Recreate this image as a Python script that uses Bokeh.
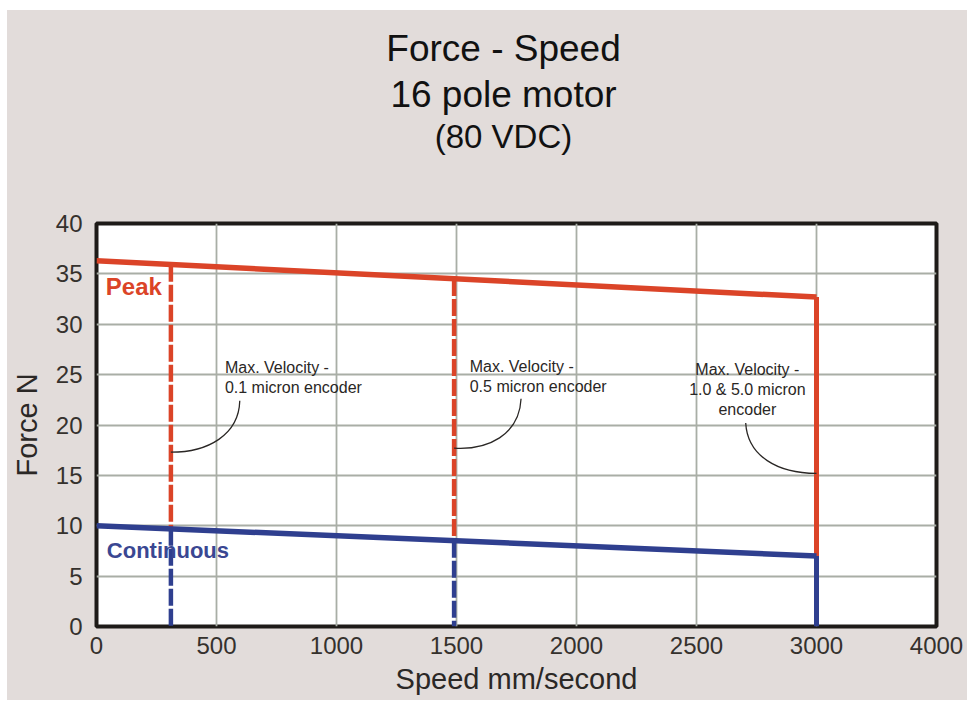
import numpy as np
from bokeh.plotting import figure
from bokeh.models import FixedTicker, Range1d, Spacer
from bokeh.layouts import column, row
from bokeh.embed import file_html
from bokeh.resources import INLINE
from bokeh.core.properties import value

# ---------------- data ----------------
speed_range = [0, 3000]                # mm/second
peak_force = [36.3, 32.7]              # N
continuous_force = [10.0, 7.0]         # N

limit_speeds = [310, 1490, 3000]       # max velocity per encoder
limit_peak = [35.9, 34.5, 32.7]
limit_cont = [9.7, 8.5, 7.0]
limit_dashed = [True, True, False]

x_ticks = [0, 500, 1000, 1500, 2000, 2500, 3000, 3500]
x_tick_labels = ["0", "500", "1000", "1500", "2000", "2500", "3000", "4000"]
y_ticks = [0, 5, 10, 15, 20, 25, 30, 35, 40]

title_lines = ["Force - Speed", "16 pole motor", "(80 VDC)"]
series_names = ["Peak", "Continuous"]
series_label_x = [39, 43]
series_label_y = [33.7, 7.5]

callout_lines = [["Max. Velocity -", "0.1 micron encoder"],
                 ["Max. Velocity -", "0.5 micron encoder"],
                 ["Max. Velocity -", "1.0 & 5.0 micron", "encoder"]]
callout_x = [535, 1555, 2712]
callout_y = [25.7, 25.8, 25.5]
callout_align = ["left", "left", "center"]
# leader curves (start, control points, end on the limit line)
leader_x0 = [597, 1769, 2705]
leader_y0 = [22.4, 22.6, 20.2]
leader_cx0 = [593, 1762, 2713]
leader_cy0 = [19.0, 19.0, 16.9]
leader_cx1 = [464, 1630, 2838]
leader_cy1 = [17.3, 17.5, 15.2]
leader_x1 = [310, 1490, 3000]
leader_y1 = [17.3, 17.7, 15.2]

# ---------------- style ----------------
RED = "#db4428"
BLUE = "#2f3f8f"
BG = "#e2dcda"
FONT = "Liberation Sans"
FW, FH = 840, 403
BL, BR = 87, 32
HEAD_H = 197

# ---------------- heading panel ----------------
head = figure(frame_width=FW, frame_height=HEAD_H,
              min_border_left=BL, min_border_right=BR, min_border_top=0, min_border_bottom=0,
              x_range=Range1d(0, FW), y_range=Range1d(0, HEAD_H),
              x_axis_type=None, y_axis_type=None,
              output_backend="svg", toolbar_location=None)
head.background_fill_color = None
head.border_fill_color = None
head.outline_line_color = None
head.grid.visible = False
title_sizes = ["37px", "37px", "33px"]
title_baselines = [38, 84, 126]          # px from top of panel
for txt, sz, b in zip(title_lines, title_sizes, title_baselines):
    head.text(x=[407], y=[HEAD_H - b], text=[txt], text_font=value(FONT),
              text_font_size=sz, text_color="#111111",
              text_align="center", text_baseline="alphabetic")

# ---------------- chart ----------------
p = figure(frame_width=FW, frame_height=FH,
           min_border_left=BL, min_border_right=BR,
           min_border_top=16, min_border_bottom=74,
           x_range=Range1d(0, 3500), y_range=Range1d(0, 40),
           output_backend="svg", toolbar_location=None)
p.background_fill_color = "white"
p.border_fill_color = BG
p.outline_line_color = "#1e1b18"
p.outline_line_width = 4

p.xaxis.ticker = FixedTicker(ticks=x_ticks)
p.xaxis.major_label_overrides = {t: l for t, l in zip(x_ticks, x_tick_labels)}
p.yaxis.ticker = FixedTicker(ticks=y_ticks)
for ax in (p.xaxis, p.yaxis):
    ax.axis_line_color = None
    ax.major_tick_out = 0
    ax.major_tick_in = 0
    ax.minor_tick_line_color = None
    ax.major_label_text_font = FONT
    ax.major_label_text_font_size = "24px"
    ax.major_label_text_color = "#35312d"
    ax.axis_label_text_font = FONT
    ax.axis_label_text_font_size = "29px"
    ax.axis_label_text_font_style = "normal"
    ax.axis_label_text_color = "#2b2826"
p.xaxis.axis_label = "Speed mm/second"
p.yaxis.axis_label = "Force N"
p.xaxis.major_label_standoff = 10
p.xaxis.axis_label_standoff = 6
p.yaxis.major_label_standoff = 14
p.yaxis.axis_label_standoff = 10

p.grid.grid_line_color = "#a9aea6"
p.grid.grid_line_width = 1.8

# vertical limit lines
dx = [s for s, d in zip(limit_speeds, limit_dashed) if d]
dp = [v for v, d in zip(limit_peak, limit_dashed) if d]
dc = [v for v, d in zip(limit_cont, limit_dashed) if d]
sx = [s for s, d in zip(limit_speeds, limit_dashed) if not d]
sp = [v for v, d in zip(limit_peak, limit_dashed) if not d]
sc = [v for v, d in zip(limit_cont, limit_dashed) if not d]
zd = [0] * len(dx)
zs = [0] * len(sx)
p.segment(x0=dx, y0=dp, x1=dx, y1=dc, line_color=RED, line_width=4.5, line_dash="17 3")
p.segment(x0=dx, y0=dc, x1=dx, y1=zd, line_color=BLUE, line_width=4.5, line_dash="17 3")
p.segment(x0=sx, y0=sp, x1=sx, y1=sc, line_color=RED, line_width=5)
p.segment(x0=sx, y0=sc, x1=sx, y1=zs, line_color=BLUE, line_width=5)

# main curves
p.line(speed_range, peak_force, line_color=RED, line_width=5.5)
p.line(speed_range, continuous_force, line_color=BLUE, line_width=5.5)

# series labels
p.text(x=[series_label_x[0]], y=[series_label_y[0]], text=[series_names[0]],
       text_font=value(FONT), text_font_size="24px", text_font_style="bold",
       text_color=RED, text_baseline="middle", text_align="left")
p.text(x=[series_label_x[1]], y=[series_label_y[1]], text=[series_names[1]],
       text_font=value(FONT), text_font_size="22px", text_font_style="bold",
       text_color="#3a4792", text_baseline="middle", text_align="left")

# callout texts
line_step = 20 / (FH / 40)  # 20 px in data units
for lines, cx, cy, al in zip(callout_lines, callout_x, callout_y, callout_align):
    ys = [cy - i * line_step for i in range(len(lines))]
    p.text(x=[cx] * len(lines), y=ys, text=lines, text_font=value(FONT),
           text_font_size="16px", text_color="#2a2725",
           text_baseline="middle", text_align=al)

# leader curves
p.bezier(x0=leader_x0, y0=leader_y0, x1=leader_x1, y1=leader_y1,
         cx0=leader_cx0, cy0=leader_cy0, cx1=leader_cx1, cy1=leader_cy1,
         line_color="#2a2725", line_width=1.3)

inner = column(head, p, styles={"background-color": BG})
layout = column(Spacer(height=10), row(Spacer(width=7), inner))
open("out.html", "w").write(file_html(layout, INLINE))
